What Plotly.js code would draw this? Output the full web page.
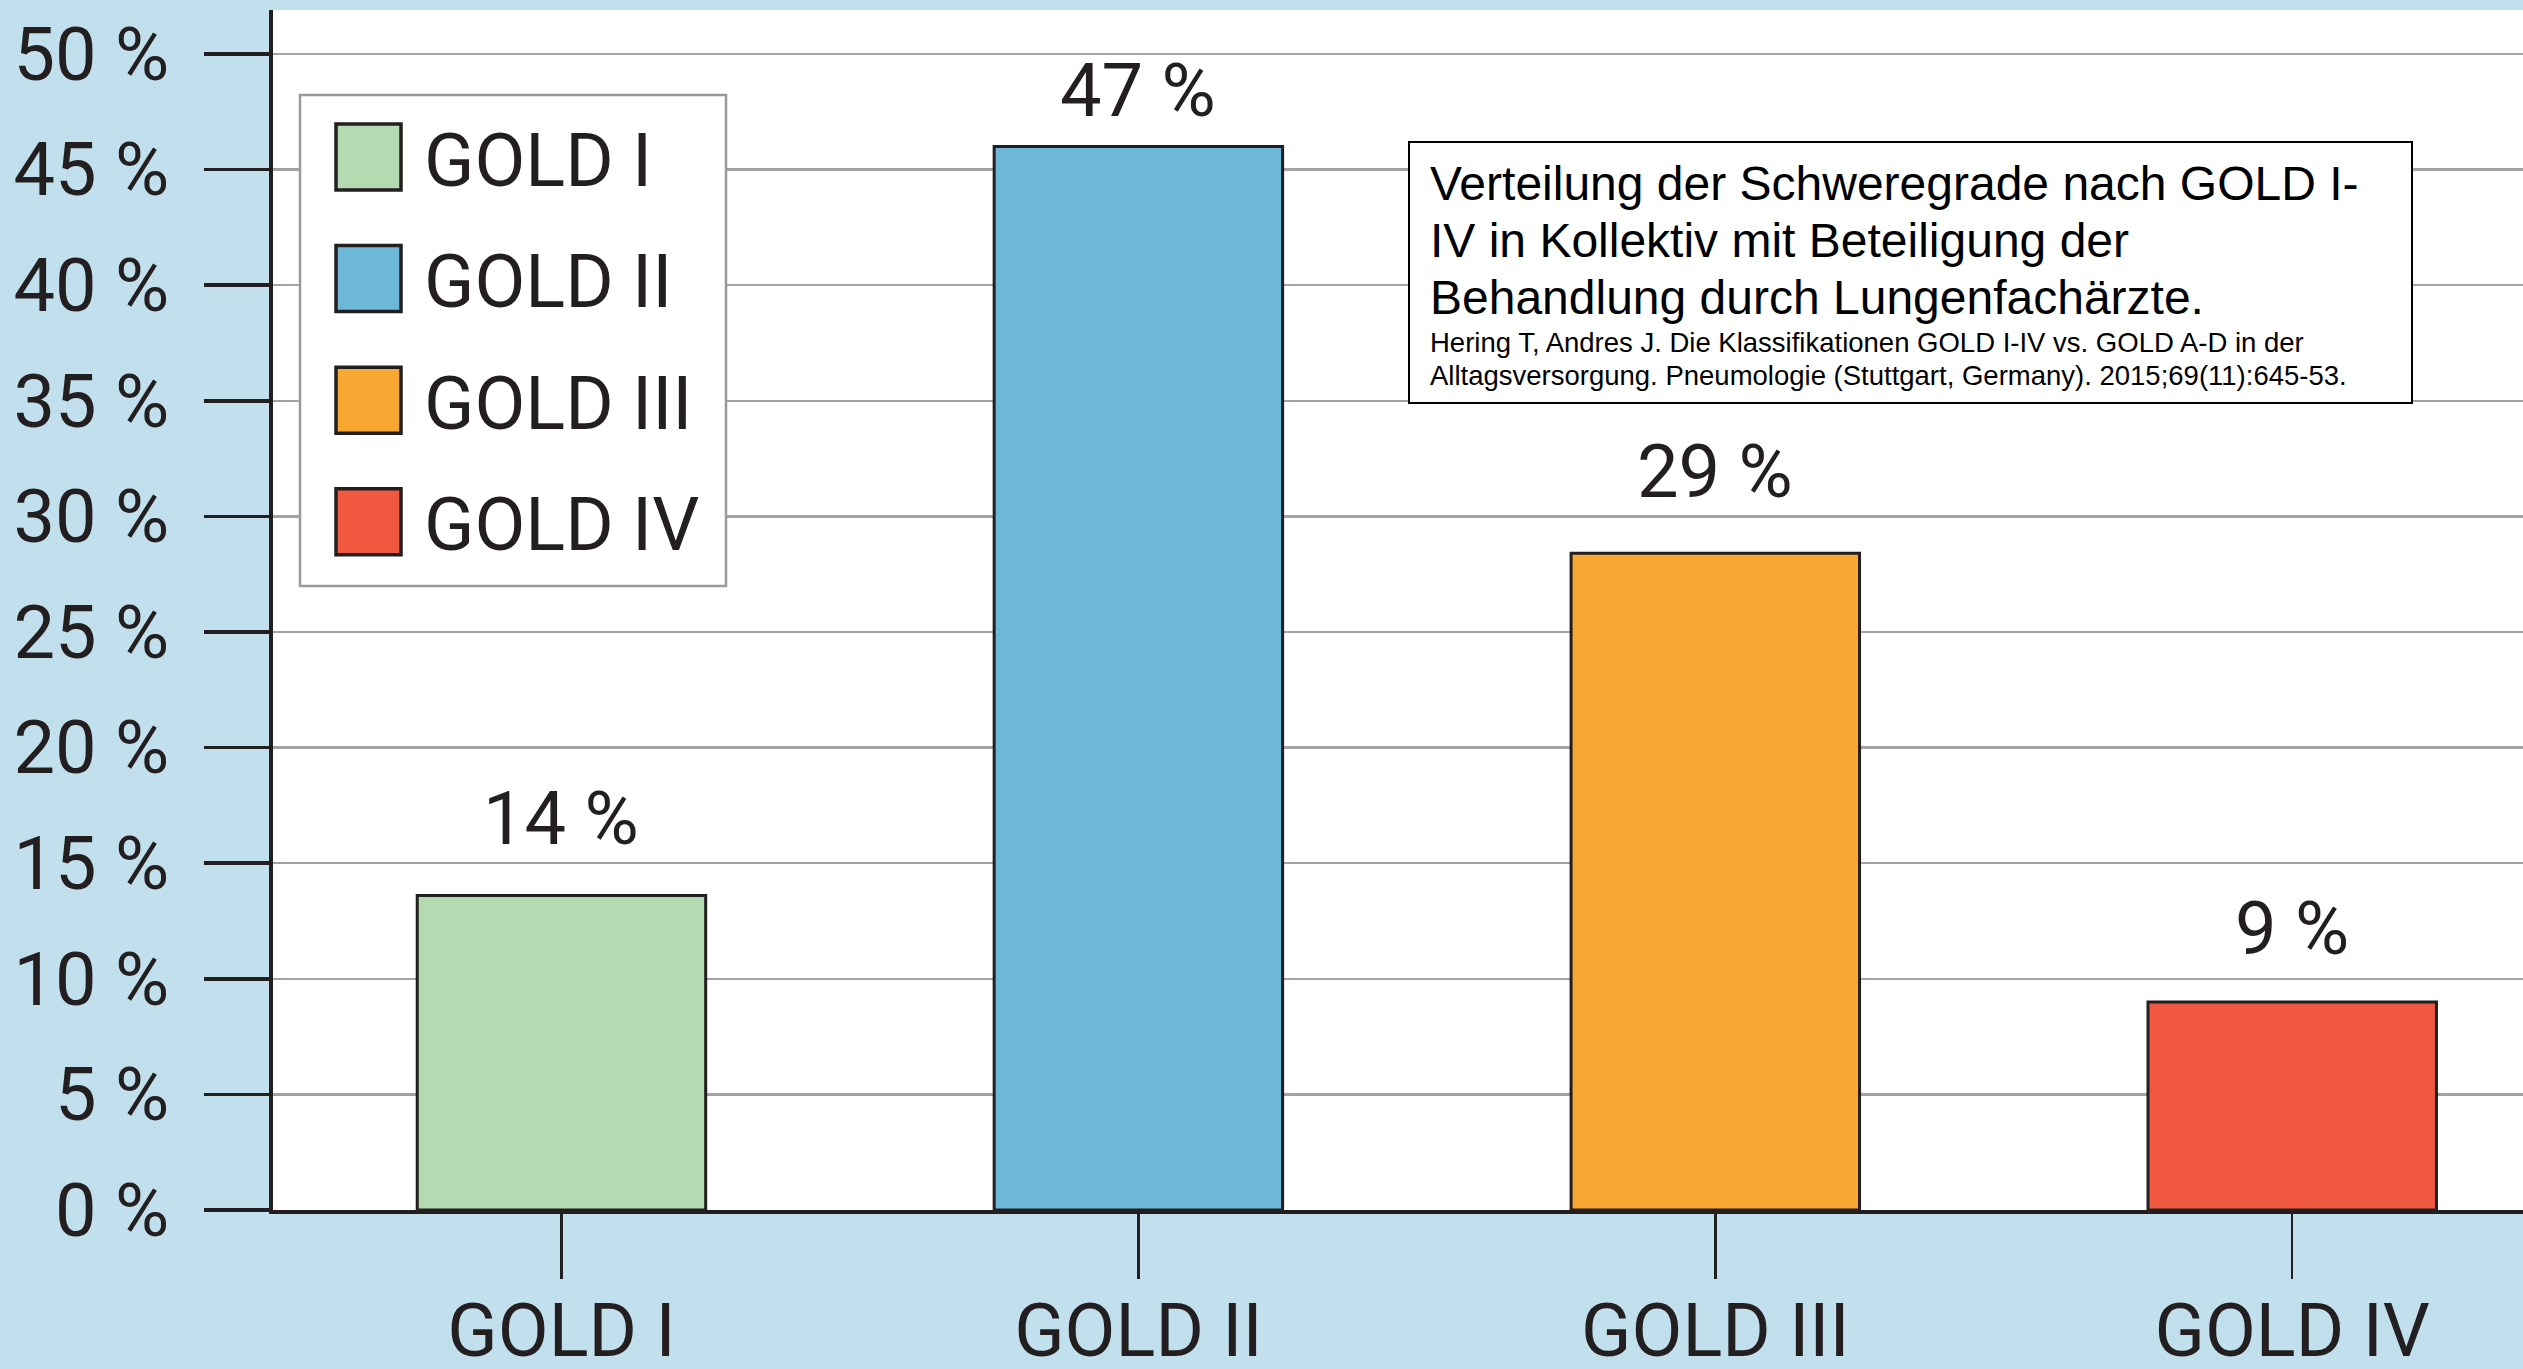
<!DOCTYPE html>
<html>
<head>
<meta charset="utf-8">
<script src="https://cdn.plot.ly/plotly-3.0.1.min.js"></script>
<style>html,body{margin:0;padding:0;background:#c2dfee;}#chart{width:2523px;height:1369px;}</style>
</head>
<body>
<div id="chart"></div>
<script>
// ---- data ----
const categories = ['GOLD I', 'GOLD II', 'GOLD III', 'GOLD IV'];
const values = [13.6, 46, 28.4, 9];
const valueLabels = ['14 %', '47 %', '29 %', '9 %'];
const legendNames = ['GOLD I', 'GOLD II', 'GOLD III', 'GOLD IV'];
const boxTitleLines = [
  'Verteilung der Schweregrade nach GOLD I-',
  'IV in Kollektiv mit Beteiligung der',
  'Behandlung durch Lungenfachärzte.'
];
const boxSourceLines = [
  'Hering T, Andres J. Die Klassifikationen GOLD I-IV vs. GOLD A-D in der',
  'Alltagsversorgung. Pneumologie (Stuttgart, Germany). 2015;69(11):645-53.'
];

// ---- style ----
const barColors = ['#b3dab1', '#6db7d8', '#f8a733', '#f0583f'];
const ink = '#231f20';
const FONT = "Roboto, 'Liberation Sans', sans-serif";
const TFONT = "'Liberation Sans', Arial, sans-serif";
const FS = 74;

const W = 2523, H = 1369;
const M = {l: 273, r: 0, t: 10, b: 159};
const PW = W - M.l - M.r, PH = H - M.t - M.b;
const px2x = x => (x - M.l) / PW;
const px2y = y => (H - M.b - y) / PH;

const trace = {
  type: 'bar',
  x: categories,
  y: values,
  width: 0.5,
  marker: {color: barColors, line: {color: ink, width: 3}},
  hoverinfo: 'skip',
  showlegend: false
};

const shapes = [];
const annotations = [];

// value labels above bars
const labelShift = [32, 10, 36, 28];
categories.forEach((c, i) => {
  annotations.push({
    x: c, y: values[i], xref: 'x', yref: 'y',
    text: valueLabels[i], showarrow: false,
    yanchor: 'bottom', yshift: labelShift[i],
    font: {family: FONT, size: FS, color: ink}
  });
});

// custom legend
shapes.push({type: 'rect', xref: 'paper', yref: 'paper',
  x0: px2x(300), x1: px2x(726), y0: px2y(95), y1: px2y(586),
  fillcolor: '#ffffff', line: {color: '#9a9a9a', width: 2.5}});
legendNames.forEach((name, i) => {
  const top = 124 + 121.6 * i;
  shapes.push({type: 'rect', xref: 'paper', yref: 'paper',
    x0: px2x(336), x1: px2x(401), y0: px2y(top), y1: px2y(top + 66),
    fillcolor: barColors[i], line: {color: ink, width: 3.5}});
  annotations.push({xref: 'paper', yref: 'paper',
    x: px2x(422), y: px2y(top + 36), xanchor: 'left', yanchor: 'middle',
    text: name, showarrow: false,
    font: {family: FONT, size: FS, color: ink}});
});

// citation box
shapes.push({type: 'rect', xref: 'paper', yref: 'paper',
  x0: px2x(1409), x1: px2x(2412), y0: px2y(142), y1: px2y(403),
  fillcolor: '#ffffff', line: {color: '#000000', width: 2}});
boxTitleLines.forEach((t, i) => {
  const base = 200 + 57 * i;
  annotations.push({xref: 'paper', yref: 'paper',
    x: px2x(1428), y: px2y(base - 0.3465 * 48), xanchor: 'left', yanchor: 'middle',
    text: t, showarrow: false, font: {family: TFONT, size: 48, color: '#000'}});
});
boxSourceLines.forEach((t, i) => {
  const base = 352 + 33 * i;
  annotations.push({xref: 'paper', yref: 'paper',
    x: px2x(1428), y: px2y(base - 0.3465 * 27.5), xanchor: 'left', yanchor: 'middle',
    text: t, showarrow: false, font: {family: TFONT, size: 27.5, color: '#000'}});
});

const layout = {
  width: W, height: H,
  margin: M,
  paper_bgcolor: '#c2dfee',
  plot_bgcolor: '#ffffff',
  font: {family: FONT, color: ink},
  showlegend: false,
  xaxis: {
    type: 'category', range: [-0.5, 3.4],
    showline: true, linecolor: ink, linewidth: 4,
    ticks: 'outside', ticklen: 65, tickwidth: 2.5, tickcolor: ink,
    tickfont: {family: FONT, size: FS, color: ink},
    ticklabelstandoff: -12,
    showgrid: false, zeroline: false, fixedrange: true
  },
  yaxis: {
    range: [0, 51.9], tick0: 0, dtick: 5, ticksuffix: ' %',
    showline: true, linecolor: ink, linewidth: 4,
    ticks: 'outside', ticklen: 65, tickwidth: 3.5, tickcolor: ink,
    tickfont: {family: FONT, size: FS, color: ink},
    ticklabelstandoff: 20,
    showgrid: true, gridcolor: '#a3a3a3', gridwidth: 2.5,
    zeroline: false, fixedrange: true
  },
  shapes: shapes,
  annotations: annotations
};

Plotly.newPlot('chart', [trace], layout, {displayModeBar: false, staticPlot: true});
</script>
</body>
</html>
